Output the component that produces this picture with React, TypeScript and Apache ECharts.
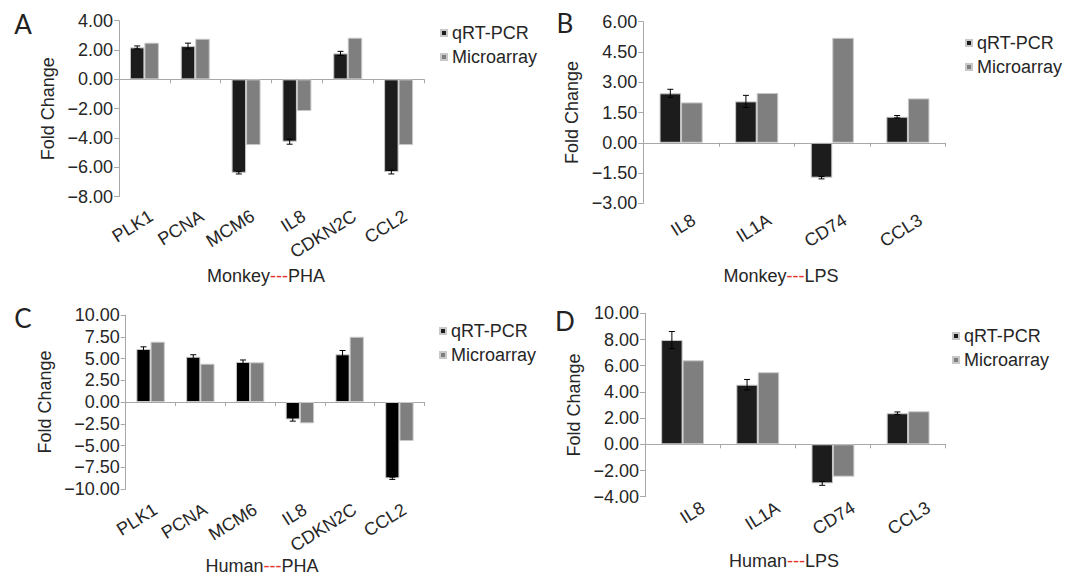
import React, { useEffect, useRef } from 'react';
import * as echarts from 'echarts';

// ---- data ----
const catsPHA = ['PLK1', 'PCNA', 'MCM6', 'IL8', 'CDKN2C', 'CCL2'];
const catsLPS = ['IL8', 'IL1A', 'CD74', 'CCL3'];

const aQrt = [2.18, 2.27, -6.37, -4.25, 1.77, -6.32];
const aQrtErr = [0.1, 0.2, 0.08, 0.17, 0.14, 0.13];
const aMicro = [2.5, 2.77, -4.48, -2.16, 2.84, -4.48];

const bQrt = [2.45, 2.05, -1.73, 1.29];
const bQrtErr = [0.2, 0.3, 0.06, 0.06];
const bMicro = [2.0, 2.47, 5.2, 2.2];

const cQrt = [6.09, 5.2, 4.6, -2.0, 5.48, -8.77];
const cQrtErr = [0.25, 0.23, 0.23, 0.2, 0.44, 0.13];
const cMicro = [6.93, 4.4, 4.56, -2.45, 7.5, -4.48];

const dQrt = [7.96, 4.55, -2.98, 2.37];
const dQrtErr = [0.65, 0.4, 0.15, 0.1];
const dMicro = [6.41, 5.5, -2.47, 2.52];

const seriesNames = ['qRT-PCR', 'Microarray'];
const panelLetters = ['A', 'B', 'C', 'D'];
const panelTitles = [
  ['Monkey', 'PHA'],
  ['Monkey', 'LPS'],
  ['Human', 'PHA'],
  ['Human', 'LPS'],
];
const yRanges = [
  { min: -8, max: 4, interval: 2 },
  { min: -3, max: 6, interval: 1.5 },
  { min: -10, max: 10, interval: 2.5 },
  { min: -4, max: 10, interval: 2 },
];

// ---- layout ----
const FONT = '"Liberation Sans", Arial, Helvetica, sans-serif';
const TXT = '#262626';
const AXIS = '#a8a8a8';
const GAP = 0.43;

const layouts = [
  { left: 119, top: 20.7, width: 305, height: 176, nameGap: 62, labelMargin: 22, labelShift: 8, legend: [440, 24], letter: [23, 24], title: [266, 276], qColor: '#1c1c1c' },
  { left: 643.3, top: 21.7, width: 302.4, height: 181.6, nameGap: 62, labelMargin: 23, labelShift: 15, legend: [965, 34], letter: [565, 23], title: [781, 276], qColor: '#1c1c1c' },
  { left: 125.7, top: 315, width: 298.6, height: 174, nameGap: 72, labelMargin: 22, labelShift: 6, legend: [439, 322], letter: [23, 318], title: [262, 566], qColor: '#000000' },
  { left: 645, top: 313.3, width: 300.7, height: 183.4, nameGap: 62, labelMargin: 22, labelShift: 24, legend: [952, 327], letter: [565, 321], title: [784, 561], qColor: '#1c1c1c' },
];

const panelData = [
  { cats: catsPHA, q: aQrt, e: aQrtErr, m: aMicro },
  { cats: catsLPS, q: bQrt, e: bQrtErr, m: bMicro },
  { cats: catsPHA, q: cQrt, e: cQrtErr, m: cMicro },
  { cats: catsLPS, q: dQrt, e: dQrtErr, m: dMicro },
];

function fmt(v: number) {
  const s = Math.abs(v).toFixed(2);
  return v < 0 ? '\u2212' + s : s;
}

function buildOption() {
  const grid: any[] = [];
  const xAxis: any[] = [];
  const yAxis: any[] = [];
  const series: any[] = [];
  const legend: any[] = [];
  const graphic: any[] = [];

  panelData.forEach((p, k) => {
    const L = layouts[k];
    const R = yRanges[k];
    grid.push({
      left: L.left,
      top: L.top,
      width: L.width,
      height: L.height,
      containLabel: false,
      outerBoundsMode: 'none',
    });
    xAxis.push({
      type: 'category',
      gridIndex: k,
      data: p.cats,
      axisLine: { show: true, onZero: true, lineStyle: { color: AXIS, width: 1 } },
      axisTick: { show: true, length: 4, alignWithLabel: false, lineStyle: { color: AXIS } },
      axisLabel: {
        interval: 0,
        rotate: 32,
        margin: L.labelMargin,
        fontSize: 18,
        fontFamily: FONT,
        color: TXT,
        padding: [0, -L.labelShift, 0, 0],
      },
      splitLine: { show: false },
    });
    yAxis.push({
      type: 'value',
      gridIndex: k,
      min: R.min,
      max: R.max,
      interval: R.interval,
      name: 'Fold Change',
      nameLocation: 'middle',
      nameGap: L.nameGap,
      nameTextStyle: { fontSize: 18, fontFamily: FONT, color: TXT },
      axisLine: { show: true, lineStyle: { color: AXIS, width: 1 } },
      axisTick: { show: true, length: 5, lineStyle: { color: AXIS } },
      axisLabel: {
        fontSize: 18,
        fontFamily: FONT,
        color: TXT,
        margin: 6,
        formatter: fmt,
        showMinLabel: true,
        showMaxLabel: true,
      },
      splitLine: { show: false },
    });
    series.push({
      type: 'bar',
      name: seriesNames[0],
      xAxisIndex: k,
      yAxisIndex: k,
      data: p.q,
      barGap: '0%',
      barCategoryGap: GAP * 100 + '%',
      itemStyle: { color: L.qColor, borderColor: '#c8c8c8', borderWidth: 1 },
    });
    series.push({
      type: 'bar',
      name: seriesNames[1],
      xAxisIndex: k,
      yAxisIndex: k,
      data: p.m,
      barGap: '0%',
      barCategoryGap: GAP * 100 + '%',
      itemStyle: { color: '#7f7f7f', borderColor: '#c8c8c8', borderWidth: 1 },
    });
    series.push({
      type: 'custom',
      xAxisIndex: k,
      yAxisIndex: k,
      z: 10,
      silent: true,
      clip: false,
      encode: { x: 0, y: 1 },
      data: p.q.map((v, i) => [i, v, p.e[i]]),
      renderItem: (params: any, api: any) => {
        const i = api.value(0);
        const v = api.value(1);
        const e = api.value(2);
        const hi = api.coord([i, v + e]);
        const lo = api.coord([i, v - e]);
        const cw = api.size([1, 0])[0];
        const bw = (cw * (1 - GAP)) / 2;
        const x = hi[0] - bw / 2;
        const cap = 3;
        const style = { stroke: '#000', lineWidth: 1 };
        return {
          type: 'group',
          children: [
            { type: 'line', shape: { x1: x, y1: hi[1], x2: x, y2: lo[1] }, style },
            { type: 'line', shape: { x1: x - cap, y1: hi[1], x2: x + cap, y2: hi[1] }, style },
            { type: 'line', shape: { x1: x - cap, y1: lo[1], x2: x + cap, y2: lo[1] }, style },
          ],
        };
      },
    });
    legend.push({
      left: L.legend[0],
      top: L.legend[1],
      padding: 0,
      orient: 'vertical',
      data: seriesNames,
      icon: 'rect',
      itemWidth: 6,
      itemHeight: 6,
      itemGap: 6,
      selectedMode: false,
      textStyle: { fontSize: 18, fontFamily: FONT, color: TXT, lineHeight: 18 },
    });
    graphic.push({
      type: 'text',
      x: L.letter[0],
      y: L.letter[1],
      style: {
        text: panelLetters[k],
        fontSize: 26,
        fontFamily: 'Lato, "Open Sans", sans-serif',
        fill: '#222',
        align: 'center',
        verticalAlign: 'middle',
      },
    });
    graphic.push({
      type: 'text',
      x: L.title[0],
      y: L.title[1],
      style: {
        text: '{a|' + panelTitles[k][0] + '}{r|---}{a|' + panelTitles[k][1] + '}',
        align: 'center',
        verticalAlign: 'middle',
        rich: {
          a: { fontSize: 18, fontFamily: FONT, fill: TXT },
          r: { fontSize: 18, fontFamily: FONT, fill: '#e8312a' },
        },
      },
    });
  });

  return {
    animation: false,
    backgroundColor: '#ffffff',
    grid,
    xAxis,
    yAxis,
    series,
    legend,
    graphic,
  };
}

export default function App() {
  const ref = useRef<HTMLDivElement>(null);
  useEffect(() => {
    if (!ref.current) return;
    const chart = echarts.init(ref.current, undefined, { renderer: 'svg' });
    chart.setOption(buildOption() as any);
    return () => chart.dispose();
  }, []);
  return (
    <div
      ref={ref}
      style={{ position: 'fixed', left: 0, top: 0, width: 1067, height: 579, background: '#fff' }}
    />
  );
}
